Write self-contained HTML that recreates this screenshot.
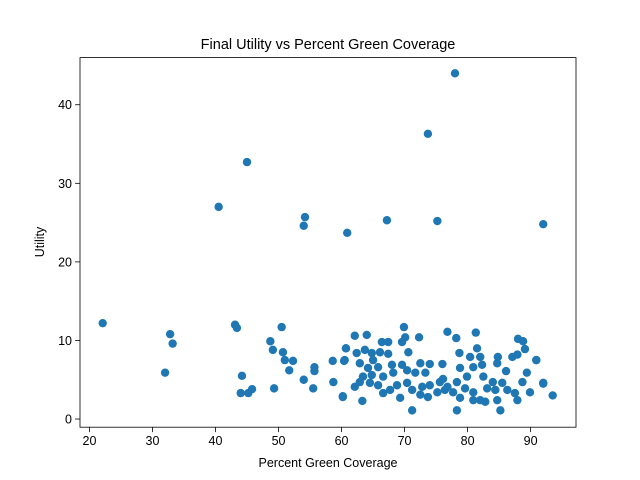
<!DOCTYPE html>
<html><head><meta charset="utf-8"><style>body{margin:0;background:#fff}svg{display:block;font-family:"Liberation Sans","DejaVu Sans",sans-serif}</style></head>
<body>
<svg id="chart" width="640" height="480">
<rect width="640" height="480" fill="#fff"/>
<text x="328" y="49" font-size="14.5" text-anchor="middle">Final Utility vs Percent Green Coverage</text>
<text x="328" y="467" font-size="12.5" text-anchor="middle">Percent Green Coverage</text>
<text transform="translate(44,242) rotate(-90)" font-size="12.5" text-anchor="middle">Utility</text>
<g id="ticks"></g>
<g id="points"></g>
<rect x="80" y="57.6" width="496" height="369.6" fill="none" stroke="#000" stroke-width="0.8"/>
</svg>
<script>
const xTicks=[20,30,40,50,60,70,80,90];
const yTicks=[0,10,20,30,40];
const xs=[22.1,32.0,32.8,33.2,40.5,43.1,43.4,44.2,44.0,45.0,45.2,45.8,48.7,49.1,49.3,50.5,50.7,51.0,51.7,52.3,54.0,54.2,54.0,55.5,55.7,55.7,58.6,58.7,60.2,60.9,60.7,60.5,67.2,73.7,75.2,78.0,92.0,92.0,93.5,90.9,
62.1,64.0,69.9,70.1,72.3,76.8,60.7,66.4,67.4,69.6,62.4,63.7,64.8,66.1,67.4,70.6,60.4,65.0,68.0,69.6,72.5,74.0,76.0,62.9,64.2,65.8,63.4,64.8,66.6,68.2,70.4,71.7,73.3,62.1,62.9,64.5,65.8,67.7,68.8,70.4,71.2,72.8,74.0,75.6,76.8,60.2,63.3,69.3,72.5,73.7,71.2,66.6,75.2,
78.2,81.3,88.0,88.8,78.7,81.5,89.1,80.4,82.0,84.8,87.1,87.9,90.9,78.8,80.9,82.3,84.7,86.1,89.4,76.1,78.3,79.9,82.5,84.0,85.5,88.7,92.0,76.4,77.7,79.6,80.9,83.1,84.4,86.3,87.5,89.9,78.8,80.9,82.8,84.7,87.9,78.3,85.2,82.0];
const ys=[12.2,5.9,10.8,9.6,27.0,12.0,11.6,5.5,3.3,32.7,3.3,3.8,9.9,8.8,3.9,11.7,8.5,7.5,6.2,7.4,5.0,25.7,24.6,3.9,6.6,6.1,7.4,4.7,2.9,23.7,9.0,7.5,25.3,36.3,25.2,44.0,24.8,4.5,3.0,7.5,
10.6,10.7,11.7,10.4,10.4,11.1,9.0,9.8,9.8,9.8,8.4,8.8,8.4,8.5,8.3,8.5,7.4,7.5,6.9,6.9,7.1,7.0,7.0,7.1,6.5,6.6,5.4,5.6,5.4,5.9,6.2,5.9,5.9,4.1,4.7,4.6,4.3,3.7,4.3,4.6,3.7,4.1,4.3,4.7,4.1,2.8,2.3,2.7,3.1,2.8,1.1,3.3,3.4,
10.3,11.0,10.2,9.9,8.4,9.0,8.9,7.9,7.9,7.9,7.9,8.2,7.5,6.5,6.6,6.9,7.1,6.1,5.9,5.1,4.7,5.4,5.4,4.7,4.6,4.7,4.6,3.7,3.4,3.9,3.4,3.9,3.7,3.7,3.3,3.4,2.7,2.4,2.2,2.4,2.4,1.1,1.1,2.4];
const NS='http://www.w3.org/2000/svg';
const X0=80,X1=576,Y0=57.6,Y1=427.2,xmin=18.5,xmax=97.2,ymin=-1.04,ymax=46.0;
function sx(v){return X0+(v-xmin)/(xmax-xmin)*(X1-X0);}
function sy(v){return Y1-(v-ymin)/(ymax-ymin)*(Y1-Y0);}
function mk(t,a){const e=document.createElementNS(NS,t);for(const k in a)e.setAttribute(k,a[k]);return e;}
const tg=document.getElementById('ticks');
xTicks.forEach(v=>{const x=sx(v);
 const l=mk('line',{x1:x,x2:x,y1:Y1,y2:Y1+4.9,stroke:'#000','stroke-width':0.8});
 
 
 tg.appendChild(l);
 const t=mk('text',{x:x,y:Y1+18,'font-size':12.5,'text-anchor':'middle'});t.textContent=v;
 
 
 tg.appendChild(t);});
yTicks.forEach(v=>{const y=sy(v);
 const l=mk('line',{x1:X0-4.9,x2:X0,y1:y,y2:y,stroke:'#000','stroke-width':0.8});
 
 
 tg.appendChild(l);
 const t=mk('text',{x:X0-8,y:y+4.5,'font-size':12.5,'text-anchor':'end'});t.textContent=v;
 
 
 tg.appendChild(t);});
const pg=document.getElementById('points');
xs.forEach((v,i)=>{const c=mk('circle',{cx:sx(v),cy:sy(ys[i]),r:4.2,fill:'#1f77b4'});
 
 
 pg.appendChild(c);});
</script>
</body></html>
